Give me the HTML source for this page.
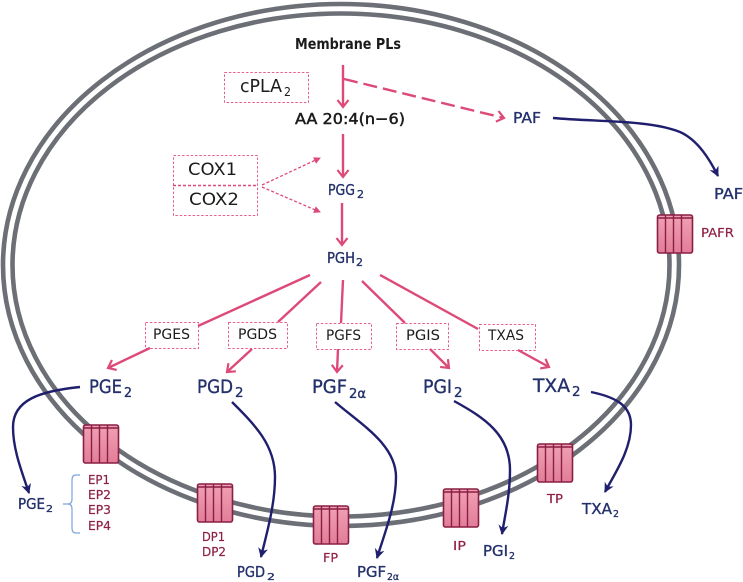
<!DOCTYPE html>
<html><head><meta charset="utf-8"><style>
html,body{margin:0;padding:0;background:#fff}
svg{display:block}
text{font-family:"DejaVu Sans","Liberation Sans",sans-serif;}
.n{fill:#23306b;stroke:#23306b;stroke-width:.35}.k{fill:#1b1b1b}.r{fill:#8f2048;stroke:#8f2048;stroke-width:.2}
.p{stroke:#dd4a78;stroke-width:2.400;fill:none}
.b{stroke:#e8608e;stroke-width:1;stroke-dasharray:2.500 1.800;fill:#fff}
.v{stroke:#1f1f6e;stroke-width:2.400;fill:none;marker-end:url(#mv)}
</style></head><body>
<svg width="743" height="582" viewBox="0 0 743 582" xmlns="http://www.w3.org/2000/svg">
<defs>
<marker id="mp" markerUnits="userSpaceOnUse" markerWidth="14" markerHeight="14" refX="11" refY="7" orient="auto"><path d="M4 1.500L11 7L4 12.500" fill="none" stroke="#dd4a78" stroke-width="2.200"/></marker>
<marker id="mv" markerUnits="userSpaceOnUse" markerWidth="12" markerHeight="12" refX="9" refY="6" orient="auto"><path d="M0 1L10 6L0 11L3 6Z" fill="#1f1f6e"/></marker>
<marker id="md" markerUnits="userSpaceOnUse" markerWidth="10" markerHeight="10" refX="7" refY="5" orient="auto"><path d="M1 1.500L8 5L1 8.500Z" fill="#dd4a78"/></marker>
<linearGradient id="g" x1="0" y1="0" x2="0" y2="1"><stop offset="0" stop-color="#f0a0b4"/><stop offset="1" stop-color="#e27d98"/></linearGradient>
<g id="rc">
<rect x="0.500" y="1" width="35" height="38" rx="2" fill="url(#g)" stroke="#8a1f44" stroke-width="1.600"/>
<path d="M0.500 4H35.500M8.500 1V39M16.500 1V39M24.500 1V39" stroke="#8a1f44" stroke-width="1.400" fill="none"/>
</g>
</defs>
<rect width="743" height="582" fill="#fff"/>
<ellipse cx="341" cy="265" rx="338" ry="261" fill="none" stroke="#6d6f76" stroke-width="4.600"/>
<ellipse cx="341" cy="265" rx="328.500" ry="251.500" fill="none" stroke="#6d6f76" stroke-width="4.600"/>

<use href="#rc" x="83" y="424"/><use href="#rc" x="197" y="483"/><use href="#rc" x="313" y="505"/>
<use href="#rc" x="443" y="488"/><use href="#rc" x="537" y="443"/><use href="#rc" x="657" y="214"/>

<rect class="b" x="224.500" y="72.500" width="84" height="30"/>
<rect class="b" x="173.500" y="155.500" width="84" height="60"/>
<path d="M173 185.500H257" stroke="#dd4a78" stroke-width="1.400" stroke-dasharray="3 2"/>
<rect class="b" x="145.500" y="322.500" width="53" height="26"/>
<rect class="b" x="228.500" y="322.500" width="59" height="26"/>
<rect class="b" x="316.500" y="323.500" width="55" height="26"/>
<rect class="b" x="396.500" y="323.500" width="52" height="26"/>
<rect class="b" x="479.500" y="324.500" width="56" height="26"/>

<path class="p" d="M343 65V107" marker-end="url(#mp)"/>
<path class="p" d="M344 79L504 118" stroke-dasharray="14 6" marker-end="url(#mp)"/>
<path class="p" d="M343 134V177" marker-end="url(#mp)"/>
<path class="p" d="M342 203V245" marker-end="url(#mp)"/>
<path d="M262 185L320 158" stroke="#dd4a78" stroke-width="1.300" stroke-dasharray="3 2" fill="none" marker-end="url(#md)"/>
<path d="M262 187L320 212" stroke="#dd4a78" stroke-width="1.300" stroke-dasharray="3 2" fill="none" marker-end="url(#md)"/>
<path class="p" d="M310 275L198 326M321 282L278 322M343 280L341 323M362 281L405 323M380 275L478 329"/>
<path class="p" d="M150 348L108 368" marker-end="url(#mp)"/>
<path class="p" d="M252 349L227 372" marker-end="url(#mp)"/>
<path class="p" d="M338 349L337 372" marker-end="url(#mp)"/>
<path class="p" d="M430 349L449 368" marker-end="url(#mp)"/>
<path class="p" d="M518 350L549 367" marker-end="url(#mp)"/>

<path class="v" d="M553 118C600 122 650 120 680 132C698 140 710 160 718 176"/>
<path class="v" d="M80 387C40 391 13 400 13 427C13 450 22 472 29 493"/>
<path class="v" d="M232 402C255 425 275 445 275 477C275 505 267 532 261 557"/>
<path class="v" d="M335 402C362 425 396 445 396 477C396 505 385 532 377 558"/>
<path class="v" d="M454 401C485 418 510 435 510 470C510 495 505 515 502 534"/>
<path class="v" d="M591 392C615 397 631 405 631 425C631 450 615 473 605 492"/>
<path d="M80 475H76Q72 475 72 480V499Q72 504 68 504H63M68 504Q72 504 72 509V528Q72 533 76 533H80" fill="none" stroke="#7ba4dc" stroke-width="1.200"/>

<text class="k" x="295" y="49" font-size="15" font-weight="bold" textLength="106" lengthAdjust="spacingAndGlyphs">Membrane PLs</text>
<text class="k" x="240" y="92" font-size="18" textLength="42" lengthAdjust="spacingAndGlyphs">cPLA</text>
<text class="k" x="284" y="96" font-size="12" textLength="7" lengthAdjust="spacingAndGlyphs">2</text>
<text class="k" x="295" y="124" font-size="15.500" textLength="110" lengthAdjust="spacingAndGlyphs" stroke="#1b1b1b" stroke-width=".5">AA 20:4(n−6)</text>
<text class="k" x="188" y="175" font-size="17" textLength="49" lengthAdjust="spacingAndGlyphs">COX1</text>
<text class="k" x="189" y="205" font-size="17" textLength="50" lengthAdjust="spacingAndGlyphs">COX2</text>

<text class="n" x="328" y="195" font-size="15.500" textLength="27" lengthAdjust="spacingAndGlyphs">PGG</text>
<text class="n" x="357" y="198" font-size="10.500" textLength="7" lengthAdjust="spacingAndGlyphs">2</text>
<text class="n" x="327" y="263" font-size="15.500" textLength="28" lengthAdjust="spacingAndGlyphs">PGH</text>
<text class="n" x="356" y="266" font-size="10.500" textLength="7" lengthAdjust="spacingAndGlyphs">2</text>
<text class="n" x="513" y="123" font-size="15" textLength="28" lengthAdjust="spacingAndGlyphs">PAF</text>
<text class="n" x="714" y="199" font-size="15" textLength="29" lengthAdjust="spacingAndGlyphs">PAF</text>
<text class="r" x="701" y="237" font-size="12.500" textLength="33" lengthAdjust="spacingAndGlyphs">PAFR</text>

<text class="k" x="153" y="339" font-size="14" textLength="37" lengthAdjust="spacingAndGlyphs">PGES</text>
<text class="k" x="238" y="339" font-size="14" textLength="39" lengthAdjust="spacingAndGlyphs">PGDS</text>
<text class="k" x="326" y="340" font-size="14" textLength="35" lengthAdjust="spacingAndGlyphs">PGFS</text>
<text class="k" x="406" y="340" font-size="14" textLength="34" lengthAdjust="spacingAndGlyphs">PGIS</text>
<text class="k" x="488" y="340" font-size="14" textLength="36" lengthAdjust="spacingAndGlyphs">TXAS</text>

<text class="n" x="89" y="393" font-size="19" textLength="33" lengthAdjust="spacingAndGlyphs">PGE</text>
<text class="n" x="124" y="397" font-size="13.500" textLength="8" lengthAdjust="spacingAndGlyphs">2</text>
<text class="n" x="197" y="393" font-size="19" textLength="36" lengthAdjust="spacingAndGlyphs">PGD</text>
<text class="n" x="235" y="397" font-size="13.500" textLength="8.500" lengthAdjust="spacingAndGlyphs">2</text>
<text class="n" x="312" y="393" font-size="19" textLength="35" lengthAdjust="spacingAndGlyphs">PGF</text>
<text class="n" x="349" y="398" font-size="13" textLength="17" lengthAdjust="spacingAndGlyphs">2α</text>
<text class="n" x="423" y="393" font-size="19" textLength="29" lengthAdjust="spacingAndGlyphs">PGI</text>
<text class="n" x="454" y="397" font-size="13.500" textLength="8.500" lengthAdjust="spacingAndGlyphs">2</text>
<text class="n" x="533" y="392" font-size="19" textLength="37" lengthAdjust="spacingAndGlyphs">TXA</text>
<text class="n" x="572" y="396" font-size="13.500" textLength="8.500" lengthAdjust="spacingAndGlyphs">2</text>

<text class="n" x="18" y="509" font-size="15" textLength="27" lengthAdjust="spacingAndGlyphs">PGE</text>
<text class="n" x="46" y="512" font-size="10" textLength="7" lengthAdjust="spacingAndGlyphs">2</text>
<text class="n" x="237" y="577" font-size="15" textLength="28" lengthAdjust="spacingAndGlyphs">PGD</text>
<text class="n" x="267" y="580" font-size="10" textLength="8" lengthAdjust="spacingAndGlyphs">2</text>
<text class="n" x="357" y="577" font-size="15" textLength="29" lengthAdjust="spacingAndGlyphs">PGF</text>
<text class="n" x="387" y="580" font-size="10" textLength="12" lengthAdjust="spacingAndGlyphs">2α</text>
<text class="n" x="483" y="556" font-size="15" textLength="25" lengthAdjust="spacingAndGlyphs">PGI</text>
<text class="n" x="509" y="559" font-size="10" textLength="6" lengthAdjust="spacingAndGlyphs">2</text>
<text class="n" x="582" y="514" font-size="15" textLength="30" lengthAdjust="spacingAndGlyphs">TXA</text>
<text class="n" x="613" y="517" font-size="10" textLength="6" lengthAdjust="spacingAndGlyphs">2</text>

<text class="r" x="88" y="484" font-size="12.500" textLength="22" lengthAdjust="spacingAndGlyphs">EP1</text>
<text class="r" x="88" y="499" font-size="12.500" textLength="23" lengthAdjust="spacingAndGlyphs">EP2</text>
<text class="r" x="88" y="514" font-size="12.500" textLength="23" lengthAdjust="spacingAndGlyphs">EP3</text>
<text class="r" x="88" y="530" font-size="12.500" textLength="23" lengthAdjust="spacingAndGlyphs">EP4</text>
<text class="r" x="202" y="541" font-size="12.500" textLength="23" lengthAdjust="spacingAndGlyphs">DP1</text>
<text class="r" x="202" y="556" font-size="12.500" textLength="24" lengthAdjust="spacingAndGlyphs">DP2</text>
<text class="r" x="323" y="562" font-size="12.500" textLength="15" lengthAdjust="spacingAndGlyphs">FP</text>
<text class="r" x="453" y="550" font-size="12.500" textLength="13" lengthAdjust="spacingAndGlyphs">IP</text>
<text class="r" x="547" y="503" font-size="12.500" textLength="16" lengthAdjust="spacingAndGlyphs">TP</text>
</svg>
</body></html>
